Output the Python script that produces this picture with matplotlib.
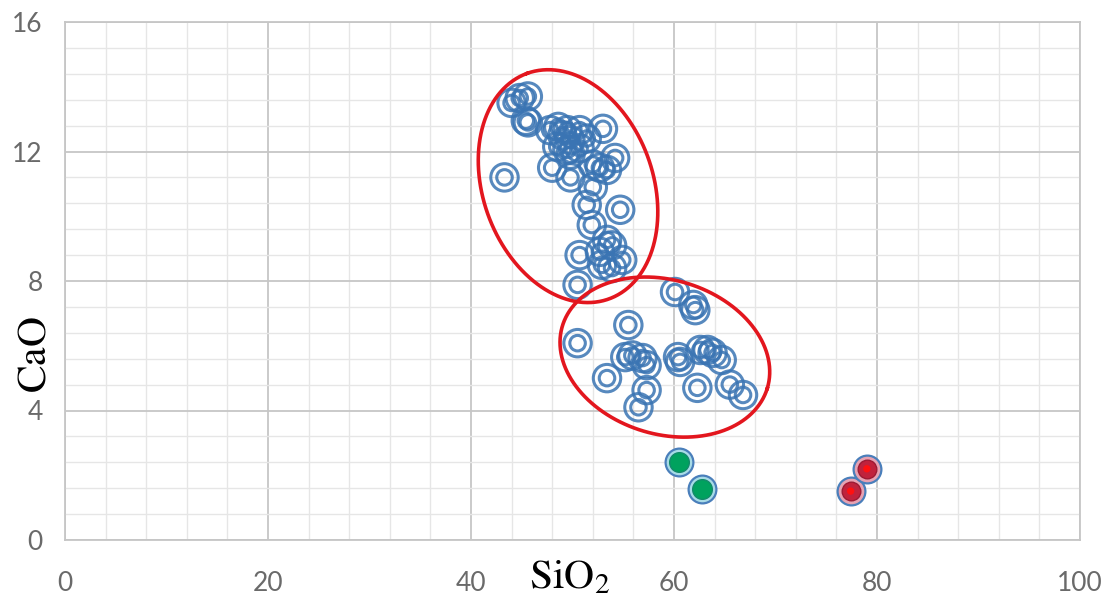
import numpy as np
import matplotlib
matplotlib.use("Agg")
import matplotlib.pyplot as plt
from matplotlib.ticker import MultipleLocator

# ---------------- data ----------------
sio2_blue = [44.0, 44.8, 45.6, 45.6, 45.4, 43.3, 47.8, 48.6, 49.0, 49.5, 49.8, 48.5,
             49.5, 50.7, 51.4, 53.0, 49.8, 48.0, 49.8, 52.0, 52.7, 54.2, 53.4, 50.7,
             52.0, 51.4, 54.7, 51.9, 53.4, 53.9, 52.7, 50.7, 52.9, 54.9, 53.9, 50.5,
             55.5, 50.5, 55.2, 55.9, 56.9, 57.3, 53.4, 57.3, 56.5, 60.1, 61.9, 62.1,
             60.4, 60.6, 62.6, 63.3, 63.8, 64.7, 62.3, 65.5, 66.8]
cao_blue = [13.5, 13.65, 13.7, 12.9, 12.95, 11.2, 12.66, 12.76, 12.5, 12.66, 12.35, 12.15,
            12.05, 12.66, 12.4, 12.7, 11.9, 11.5, 11.2, 11.6, 11.5, 11.8, 11.43, 12.1,
            10.9, 10.35, 10.2, 9.73, 9.27, 9.1, 8.9, 8.8, 8.5, 8.65, 8.4, 7.88,
            6.64, 6.08, 5.65, 5.7, 5.62, 5.4, 5.0, 4.63, 4.1, 7.66, 7.26, 7.1,
            5.65, 5.5, 5.87, 5.87, 5.78, 5.56, 4.7, 4.8, 4.48]
sio2_green = [60.5, 62.8]
cao_green = [2.41, 1.57]
sio2_red = [77.4, 79.0]
cao_red = [1.51, 2.2]

# ellipses: centre x, centre y, semi-major, semi-minor (in SiO2 units), angle (deg)
ell_cx = [49.56, 59.1]
ell_cy = [10.93, 5.65]
ell_a = [11.82, 10.55]
ell_b = [8.37, 7.59]
ell_ang = [110.0, -17.0]

x_ticks = [0, 20, 40, 60, 80, 100]
y_ticks = [0, 4, 8, 12, 16]

# ---------------- figure ----------------
plt.rcParams['mathtext.fontset'] = 'stix'
fig = plt.figure(figsize=(11.09, 5.97), dpi=100)
ax = fig.add_axes([65/1109, 57/597, 1015/1109, 518/597])
ax.set_xlim(0, 100)
ax.set_ylim(0, 16)
ax.set_xticks(x_ticks)
ax.set_yticks(y_ticks)
ax.xaxis.set_minor_locator(MultipleLocator(4))
ax.yaxis.set_minor_locator(MultipleLocator(0.8))
ax.grid(which='major', color='#c6c6c6', lw=1.3, zorder=0)
ax.grid(which='minor', color='#e6e6e6', lw=1.0, zorder=0)
ax.set_axisbelow(True)
for s in ax.spines.values():
    s.set_color('#c6c6c6')
    s.set_linewidth(1.3)
ax.tick_params(which='both', length=0)
ax.tick_params(axis='x', pad=22, labelsize=19, labelcolor='#6a6a6a')
ax.tick_params(axis='y', pad=16, labelsize=19, labelcolor='#6a6a6a')
for lab in ax.get_xticklabels() + ax.get_yticklabels():
    lab.set_family('Lato')

blue = '#3a74b3'
ax.scatter(sio2_blue, cao_blue, s=390, facecolors='none', edgecolors=blue,
           linewidths=2.2, alpha=0.85, zorder=3)
ax.scatter(sio2_blue, cao_blue, s=125, facecolors='none', edgecolors=blue,
           linewidths=2.2, alpha=0.85, zorder=3)

ax.scatter(sio2_green, cao_green, s=400, facecolors='#a8dbe6', edgecolors='#4a7fbb',
           linewidths=1.6, zorder=3)
ax.scatter(sio2_green, cao_green, s=200, facecolors='#00a25e', edgecolors='#138a6a',
           linewidths=1.0, zorder=4)

ax.scatter(sio2_red, cao_red, s=400, facecolors='#e7a2b2', edgecolors='#4a7fbb',
           linewidths=1.6, zorder=3)
ax.scatter(sio2_red, cao_red, s=180, facecolors='#c0223c', edgecolors='#9c1a34',
           linewidths=1.0, zorder=4)
ax.scatter(sio2_red, cao_red, s=28, facecolors='#ff1010', edgecolors='none', zorder=5)

# ellipses drawn in an isotropic (pixel-proportional) space
pos = ax.get_position()
w_px = pos.width * fig.get_figwidth()
h_px = pos.height * fig.get_figheight()
k = (h_px / 16.0) / (w_px / 100.0)   # y-units to x-units factor
t = np.linspace(0, 2 * np.pi, 400)
for cx, cy, a, b, ang in zip(ell_cx, ell_cy, ell_a, ell_b, ell_ang):
    th = np.deg2rad(ang)
    u = a * np.cos(t) * np.cos(th) - b * np.sin(t) * np.sin(th)
    v = a * np.cos(t) * np.sin(th) + b * np.sin(t) * np.cos(th)
    ax.plot(cx + u, cy + v / k, color='#e3161e', lw=2.6, zorder=6)

fig.text(570/1109, 0.035, r'$\mathrm{SiO_2}$', fontsize=30, ha='center', va='center',
         color='black')
fig.text(34/1109, (597-355)/597, r'$\mathrm{CaO}$', fontsize=30, ha='center', va='center',
         rotation=90, color='black')

fig.savefig('out.png', dpi=100)
